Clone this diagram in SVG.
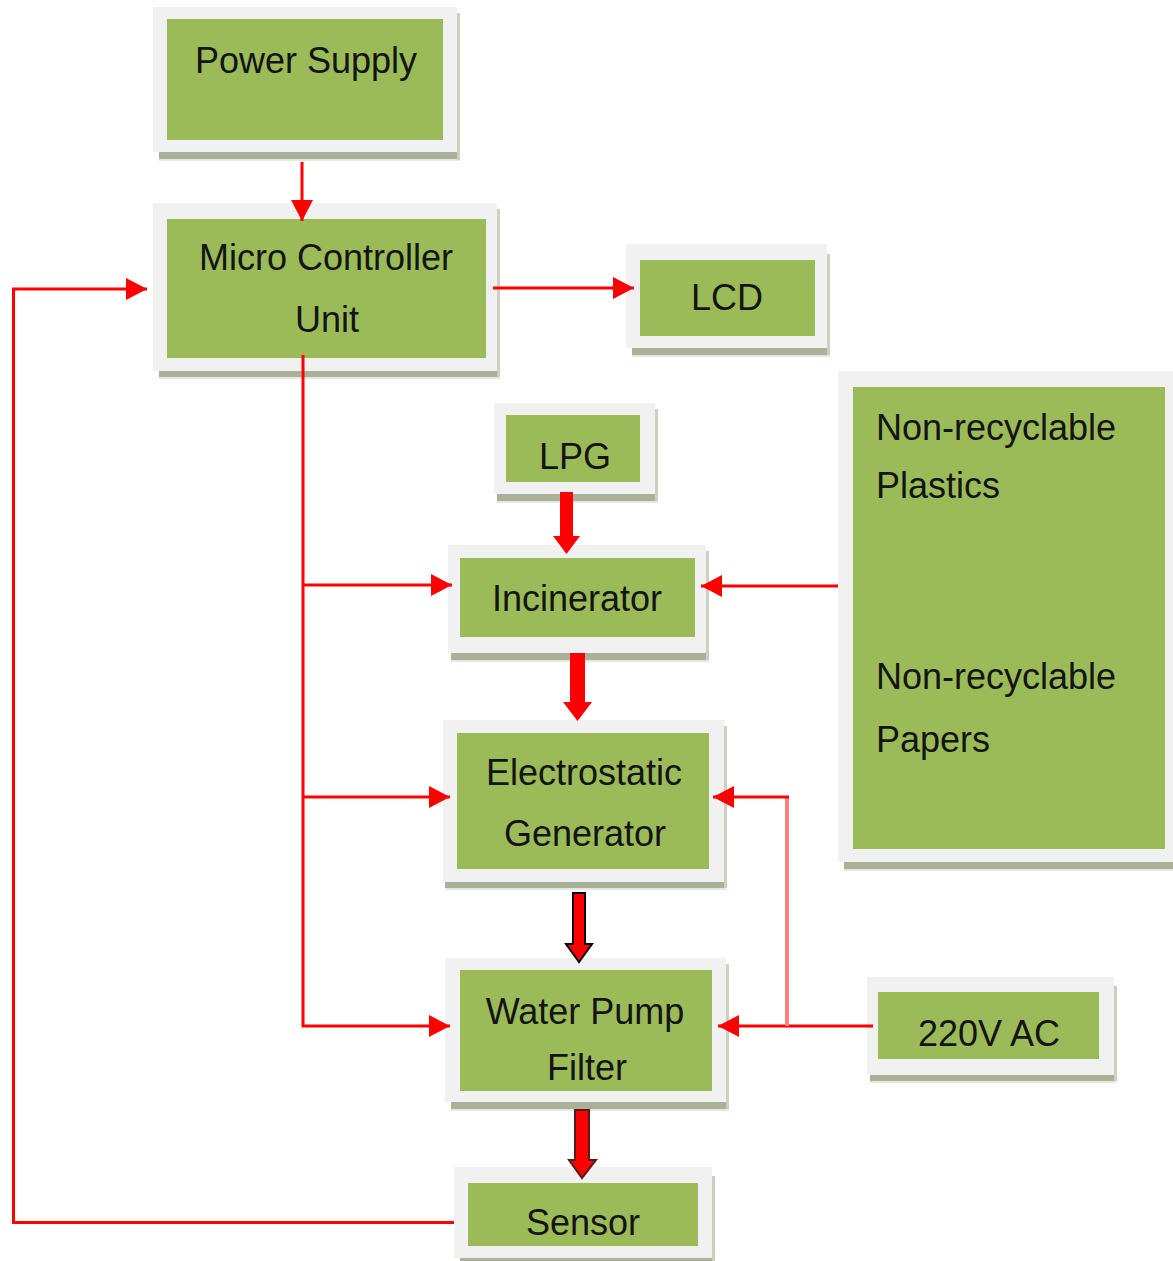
<svg xmlns="http://www.w3.org/2000/svg" width="1173" height="1261" viewBox="0 0 1173 1261">
<style>
.outer{fill:#f1f1f1}
.green{fill:#9bbb59}
.shb{fill:#a9b198}
.shr{fill:#cdd0c0}
.fr{fill:#e6e8df}
.t{font-family:"Liberation Sans",Arial,sans-serif;font-size:36px;fill:#141414}
.c{text-anchor:middle}
.ln{fill:none;stroke:#ff0000;stroke-width:3}
.pk{fill:none;stroke:#ff8080;stroke-width:4}
.blk{fill:#ff0000}
</style>
<defs>
<marker id="ah" markerUnits="userSpaceOnUse" markerWidth="22" markerHeight="22" refX="21" refY="11" orient="auto">
<path d="M0,0 L21,11 L0,22 Z" fill="#ff0000"/>
</marker>
</defs>
<rect width="1173" height="1261" fill="#ffffff"/>

<g id="power-supply">
<rect class="fr" x="159" y="152" width="301" height="9"/>
<rect class="shb" x="159" y="152" width="298" height="7"/>
<rect class="shr" x="457" y="13" width="3" height="147"/>
<rect class="outer" x="153" y="7" width="304" height="145"/>
<rect class="green" x="167" y="19" width="276" height="121"/>
<text class="t c" x="306" y="73">Power Supply</text>
</g>

<g id="mcu">
<rect class="fr" x="159" y="371" width="341" height="8"/>
<rect class="shb" x="159" y="371" width="338" height="6"/>
<rect class="shr" x="497" y="209" width="3" height="168"/>
<rect class="outer" x="153" y="203" width="344" height="168"/>
<rect class="green" x="167" y="219" width="319" height="139"/>
<text class="t c" x="326" y="270">Micro Controller</text>
<text class="t c" x="327" y="332">Unit</text>
</g>

<g id="lcd">
<rect class="fr" x="632" y="348" width="198" height="9"/>
<rect class="shb" x="632" y="348" width="195" height="7"/>
<rect class="shr" x="827" y="254" width="3" height="101"/>
<rect class="outer" x="626" y="244" width="201" height="104"/>
<rect class="green" x="640" y="260" width="175" height="76"/>
<text class="t c" x="727" y="310">LCD</text>
</g>

<g id="lpg">
<rect class="fr" x="497" y="494" width="161" height="9"/>
<rect class="shb" x="497" y="494" width="158" height="7"/>
<rect class="shr" x="655" y="409" width="3" height="92"/>
<rect class="outer" x="494" y="403" width="161" height="91"/>
<rect class="green" x="506" y="415" width="134" height="67"/>
<text class="t c" x="575" y="469">LPG</text>
</g>

<g id="incinerator">
<rect class="fr" x="451" y="653" width="258" height="9"/>
<rect class="shb" x="451" y="653" width="255" height="7"/>
<rect class="shr" x="706" y="551" width="3" height="109"/>
<rect class="outer" x="448" y="545" width="258" height="108"/>
<rect class="green" x="460" y="558" width="235" height="79"/>
<text class="t c" x="577" y="611">Incinerator</text>
</g>

<g id="electrostatic-generator">
<rect class="fr" x="445" y="882" width="281" height="8"/>
<rect class="shb" x="445" y="882" width="279" height="6"/>
<rect class="shr" x="724" y="726" width="3" height="162"/>
<rect class="outer" x="443" y="720" width="281" height="162"/>
<rect class="green" x="457" y="733" width="252" height="136"/>
<text class="t c" x="584" y="785">Electrostatic</text>
<text class="t c" x="585" y="846">Generator</text>
</g>

<g id="water-pump-filter">
<rect class="fr" x="451" y="1102" width="278" height="9"/>
<rect class="shb" x="451" y="1102" width="275" height="7"/>
<rect class="shr" x="726" y="964" width="3" height="145"/>
<rect class="outer" x="445" y="958" width="281" height="144"/>
<rect class="green" x="460" y="970" width="252" height="121"/>
<text class="t c" x="585" y="1024">Water Pump</text>
<text class="t c" x="587" y="1080">Filter</text>
</g>

<g id="sensor">
<rect class="shb" x="460" y="1258" width="252" height="3"/>
<rect class="shr" x="712" y="1176" width="3" height="85"/>
<rect class="outer" x="454" y="1167" width="258" height="91"/>
<rect class="green" x="468" y="1183" width="230" height="63"/>
<text class="t c" x="583" y="1235">Sensor</text>
</g>

<g id="ac-220v">
<rect class="fr" x="870" y="1075" width="246" height="8"/>
<rect class="shb" x="870" y="1075" width="244" height="6"/>
<rect class="shr" x="1114" y="986" width="3" height="95"/>
<rect class="outer" x="867" y="977" width="247" height="98"/>
<rect class="green" x="878" y="992" width="221" height="67"/>
<text class="t c" x="989" y="1046">220V AC</text>
</g>

<g id="non-recyclable">
<rect class="fr" x="844" y="862" width="329" height="9"/>
<rect class="shb" x="844" y="862" width="329" height="7"/>
<rect class="outer" x="838" y="371" width="335" height="491"/>
<rect class="green" x="853" y="387" width="312" height="462"/>
<text class="t" x="876" y="440">Non-recyclable</text>
<text class="t" x="876" y="498">Plastics</text>
<text class="t" x="876" y="689">Non-recyclable</text>
<text class="t" x="876" y="752">Papers</text>
</g>

<g id="connectors">
<path class="ln" d="M302,162 V221" marker-end="url(#ah)"/>
<path class="ln" d="M493,288 H634" marker-end="url(#ah)"/>
<path class="ln" d="M454,1222.5 H13.5 V289 H147" marker-end="url(#ah)"/>
<path class="ln" d="M303,355 V1026 H450" marker-end="url(#ah)"/>
<path class="ln" d="M303,585 H452" marker-end="url(#ah)"/>
<path class="ln" d="M303,797 H450" marker-end="url(#ah)"/>
<path class="ln" d="M838,586 H701" marker-end="url(#ah)"/>
<path class="ln" d="M873,1026 H718" marker-end="url(#ah)"/>
<path class="pk" d="M787,1026 V797"/>
<path class="ln" d="M789,797 H713" marker-end="url(#ah)"/>
<polygon class="blk" points="560,492 573,492 573,536 580,536 566.5,554 553,536 560,536"/>
<polygon class="blk" points="570,653 585,653 585,702 592,702 577.5,721 563,702 570,702"/>
<polygon class="blk" stroke="#000000" stroke-width="2" points="573,893 585,893 585,944 592,944 579,962 566,944 573,944"/>
<polygon class="blk" stroke="#5a1a1a" stroke-width="2" points="575,1110 589,1110 589,1160 596,1160 582,1178 569,1160 575,1160"/>
</g>
</svg>
